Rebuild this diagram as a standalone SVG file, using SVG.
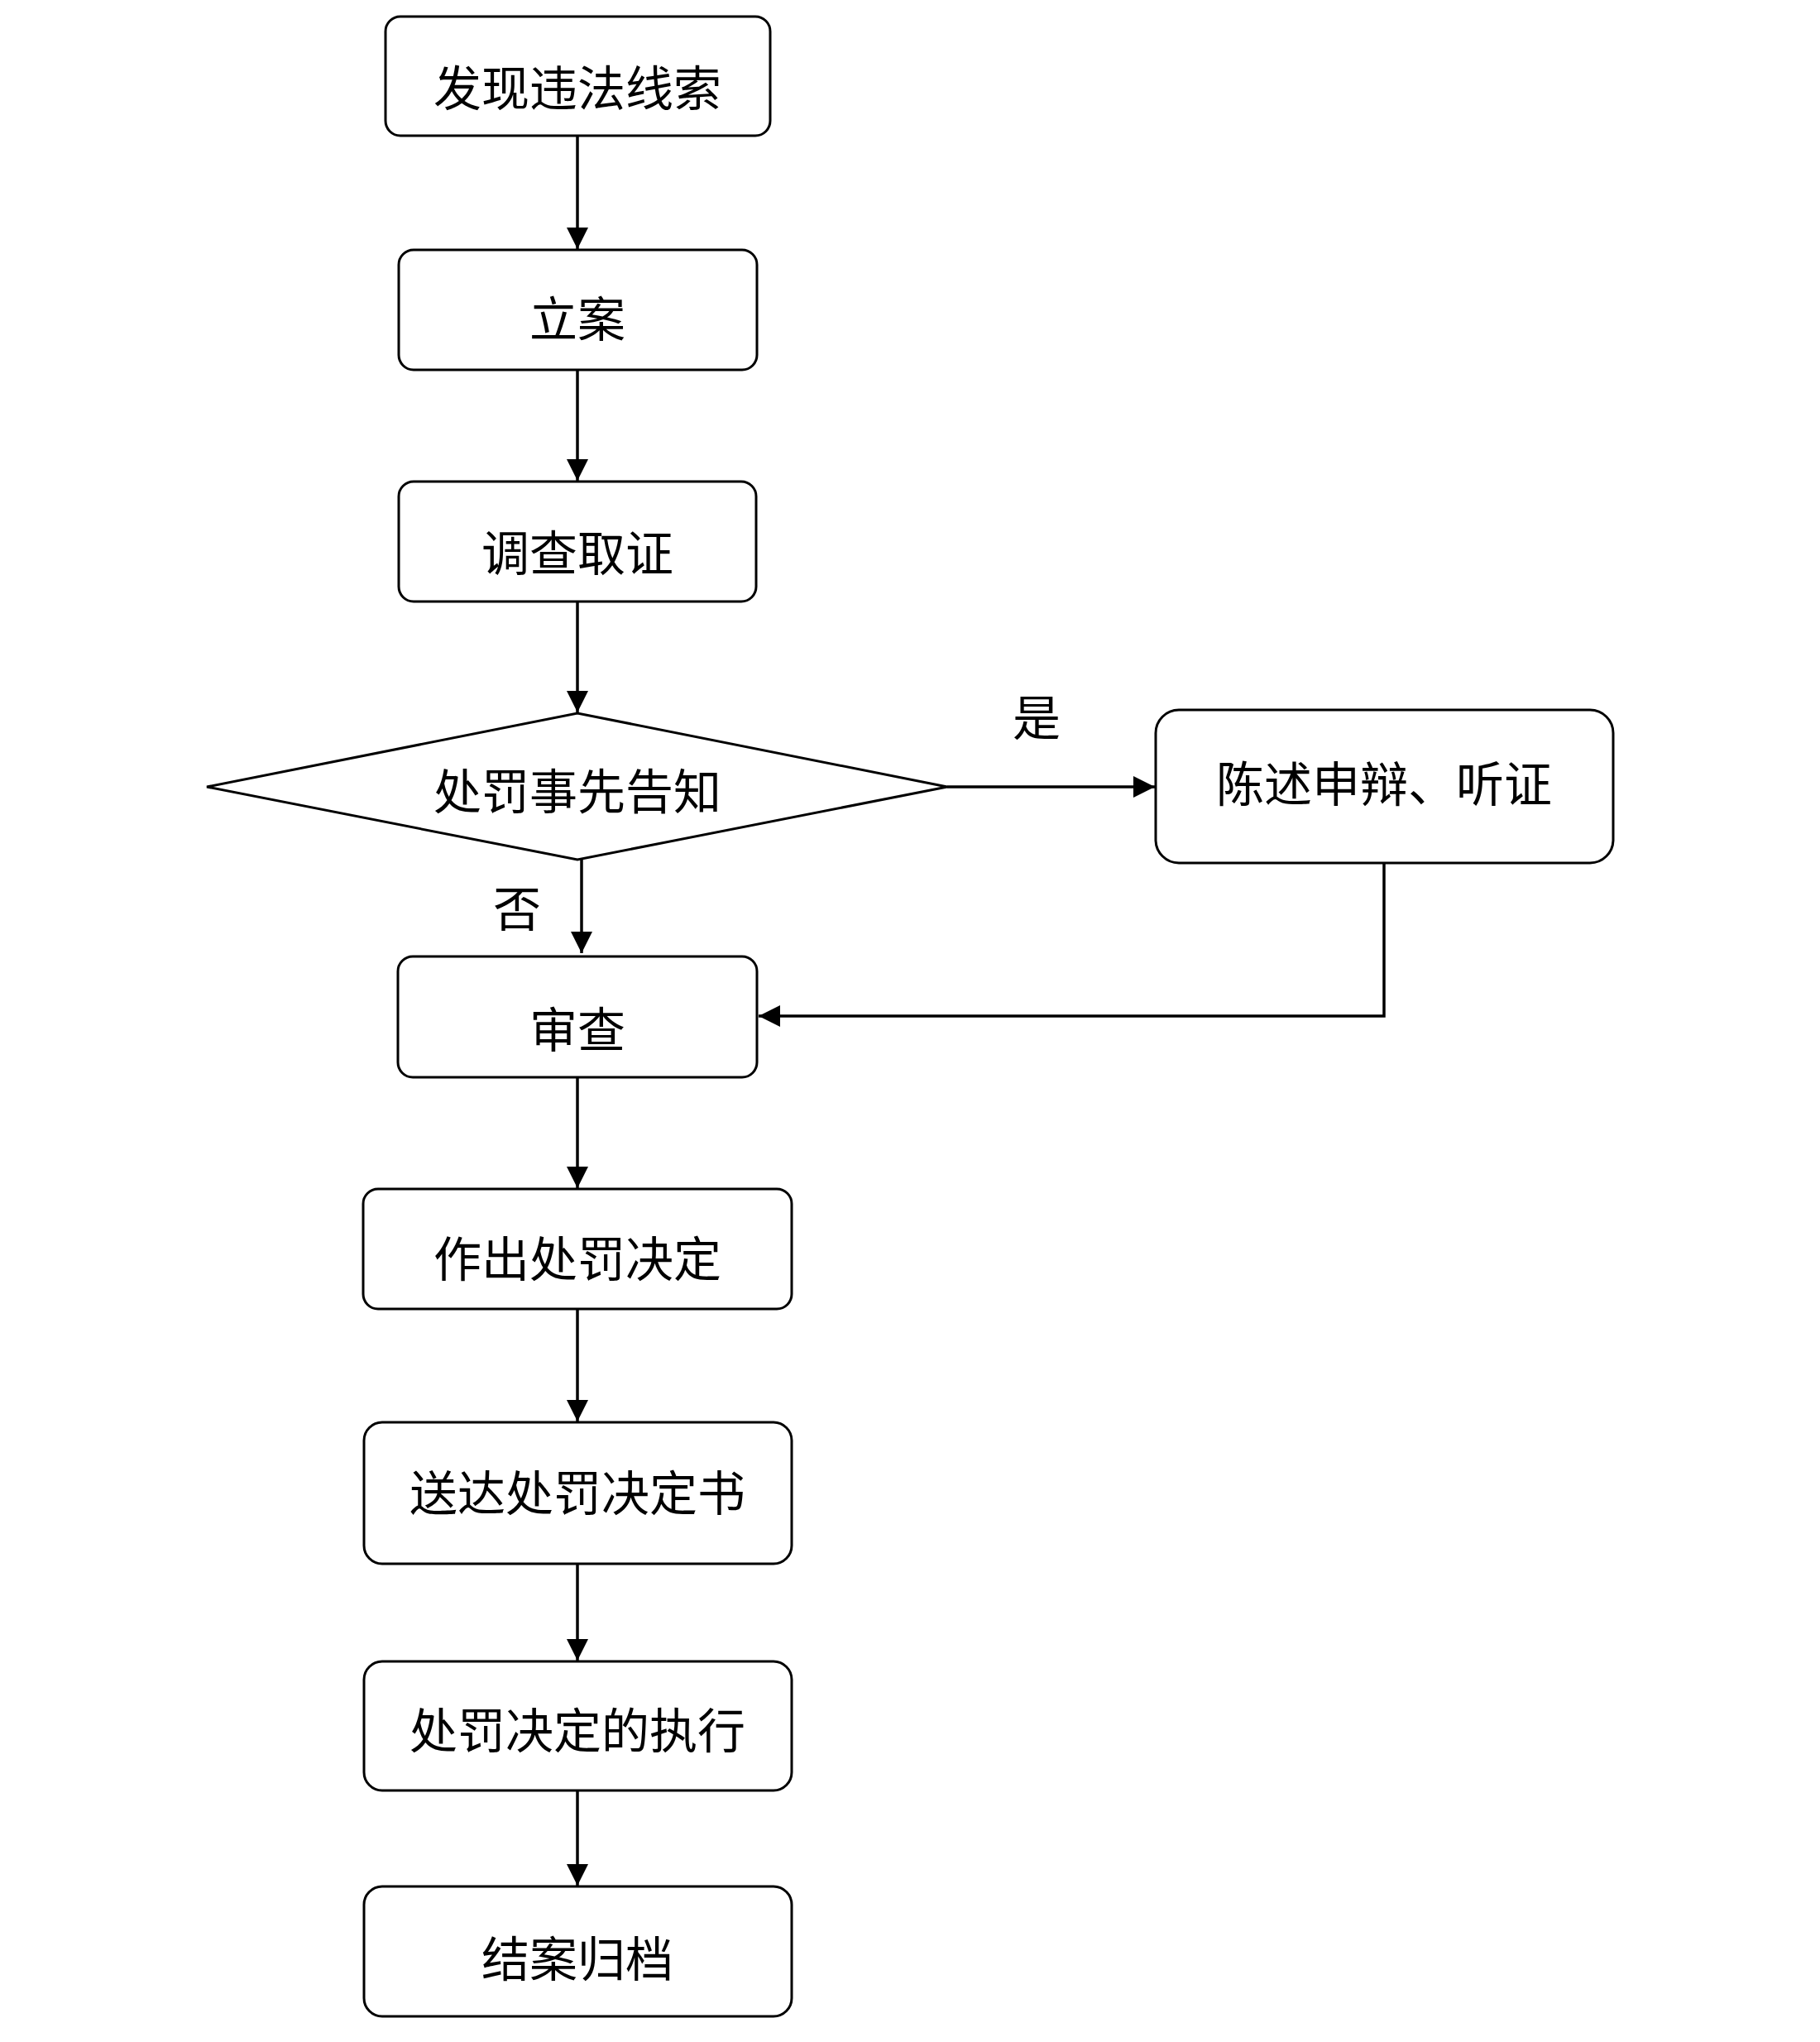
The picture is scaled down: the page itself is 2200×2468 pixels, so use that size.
<svg xmlns="http://www.w3.org/2000/svg" width="2200" height="2468" viewBox="0 0 2200 2468">
<style>
.box{fill:#fff;stroke:#000;stroke-width:3}
.t{font-family:"Noto Sans CJK SC","Noto Sans",sans-serif;font-size:58px;fill:#000;text-anchor:middle;dominant-baseline:central}
.c{fill:none;stroke:#000;stroke-width:3.5}
</style>
<defs>
<marker id="ah" markerUnits="userSpaceOnUse" markerWidth="26" markerHeight="26" refX="24" refY="12" orient="auto" viewBox="0 0 24 24">
<path d="M0,0 L24,12 L0,24 z" fill="#000"/>
</marker>
</defs>
<rect width="2200" height="2468" fill="#fff"/>
<g id="connectors">
<path class="c" d="M698,164 V301" marker-end="url(#ah)"/>
<path class="c" d="M698,447 V581" marker-end="url(#ah)"/>
<path class="c" d="M698,727 V861" marker-end="url(#ah)"/>
<path class="c" d="M703,1039 V1152" marker-end="url(#ah)"/>
<path class="c" d="M1145,951 H1396" marker-end="url(#ah)"/>
<path class="c" d="M1673,1043 V1228 H917" marker-end="url(#ah)"/>
<path class="c" d="M698,1302 V1436" marker-end="url(#ah)"/>
<path class="c" d="M698,1582 V1718" marker-end="url(#ah)"/>
<path class="c" d="M698,1890 V2007" marker-end="url(#ah)"/>
<path class="c" d="M698,2164 V2279" marker-end="url(#ah)"/>
<text class="t" x="1253" y="864">是</text>
<text class="t" x="625" y="1095">否</text>
</g>
<g id="n1"><rect class="box" x="466" y="20" width="465" height="144" rx="18"/><text class="t" x="698" y="103">发现违法线索</text></g>
<g id="n2"><rect class="box" x="482" y="302" width="433" height="145" rx="18"/><text class="t" x="698" y="382">立案</text></g>
<g id="n3"><rect class="box" x="482" y="582" width="432" height="145" rx="18"/><text class="t" x="698" y="665">调查取证</text></g>
<g id="n4"><polygon class="box" points="250,951 698,862 1145,951 698,1039"/><text class="t" x="698" y="953">处罚事先告知</text></g>
<g id="n5"><rect class="box" x="1397" y="858" width="553" height="185" rx="28"/><text class="t" x="1673" y="944">陈述申辩、听证</text></g>
<g id="n6"><rect class="box" x="481" y="1156" width="434" height="146" rx="18"/><text class="t" x="698" y="1241">审查</text></g>
<g id="n7"><rect class="box" x="439" y="1437" width="518" height="145" rx="18"/><text class="t" x="698" y="1518">作出处罚决定</text></g>
<g id="n8"><rect class="box" x="440" y="1719" width="517" height="171" rx="22"/><text class="t" x="698" y="1801">送达处罚决定书</text></g>
<g id="n9"><rect class="box" x="440" y="2008" width="517" height="156" rx="22"/><text class="t" x="698" y="2088">处罚决定的执行</text></g>
<g id="n10"><rect class="box" x="440" y="2280" width="517" height="157" rx="22"/><text class="t" x="698" y="2364">结案归档</text></g>
</svg>
